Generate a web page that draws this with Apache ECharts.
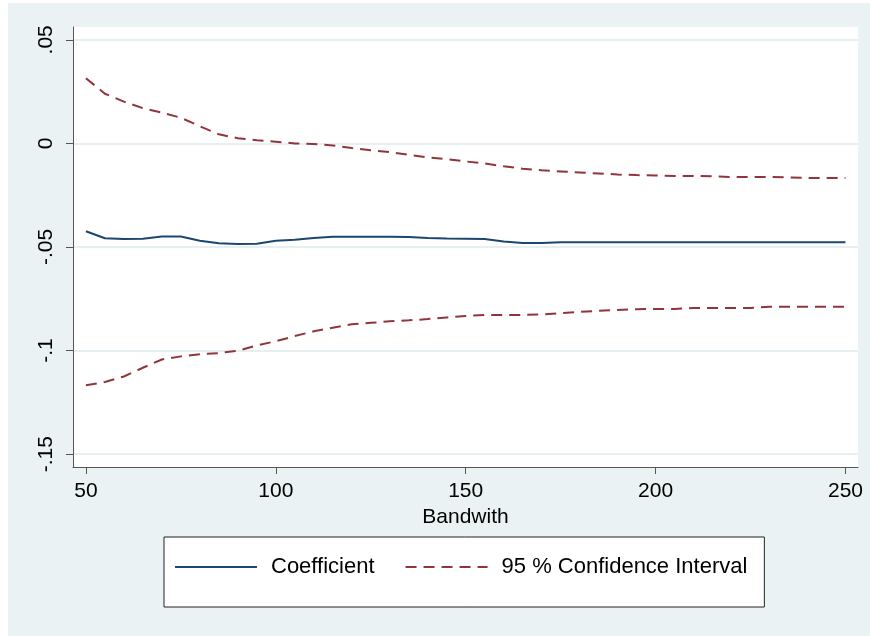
<!DOCTYPE html>
<html>
<head>
<meta charset="utf-8">
<script src="https://cdn.jsdelivr.net/npm/echarts@6/dist/echarts.min.js"></script>
<style>
  html, body { margin: 0; padding: 0; background: #ffffff; }
  #c { position: absolute; left: 8px; top: 3px; width: 862px; height: 633px; }
</style>
</head>
<body>
<div id="c"></div>
<script>
// Bandwidths (x values)
const bandwidth = [50,55,60,65,70,75,80,85,90,95,100,105,110,115,120,125,130,135,140,145,150,
  155,160,165,170,175,180,185,190,195,200,205,210,215,220,225,230,235,240,245,250];

// Point estimate
const coefficient = [-0.0424,-0.0458,-0.0461,-0.0460,-0.0449,-0.0449,-0.0470,-0.0482,-0.0485,-0.0484,
  -0.0470,-0.0465,-0.0456,-0.0450,-0.0450,-0.0450,-0.0450,-0.0452,-0.0457,-0.0459,-0.0460,
  -0.0461,-0.0474,-0.0481,-0.0481,-0.0477,-0.0477,-0.0477,-0.0477,-0.0477,-0.0477,
  -0.0477,-0.0477,-0.0477,-0.0477,-0.0477,-0.0477,-0.0477,-0.0477,-0.0477,-0.0477];

// Upper bound of the 95% confidence interval
const ciUpper = [0.0315,0.0240,0.0202,0.0170,0.0149,0.0124,0.0083,0.0044,0.0025,0.0015,
  0.0008,0.0000,-0.0003,-0.0010,-0.0022,-0.0033,-0.0042,-0.0055,-0.0067,-0.0076,-0.0087,
  -0.0097,-0.0110,-0.0122,-0.0130,-0.0135,-0.0140,-0.0145,-0.0150,-0.0153,-0.0155,
  -0.0157,-0.0157,-0.0159,-0.0162,-0.0162,-0.0162,-0.0164,-0.0167,-0.0167,-0.0167];

// Lower bound of the 95% confidence interval
const ciLower = [-0.1167,-0.1152,-0.1125,-0.1083,-0.1043,-0.1028,-0.1018,-0.1012,-0.1001,-0.0975,
  -0.0955,-0.0930,-0.0907,-0.0890,-0.0873,-0.0866,-0.0859,-0.0854,-0.0848,-0.0840,-0.0833,
  -0.0828,-0.0828,-0.0828,-0.0826,-0.0820,-0.0813,-0.0808,-0.0804,-0.0800,-0.0799,
  -0.0799,-0.0794,-0.0794,-0.0794,-0.0794,-0.0789,-0.0789,-0.0789,-0.0789,-0.0789];

// Tick values and labels
const xTickValues = [50, 100, 150, 200, 250];
const yTickValues = [-0.15, -0.1, -0.05, 0, 0.05];
const yTickLabels = ['-.15', '-.1', '-.05', '0', '.05'];

const seriesNames = ['Coefficient', '95 % Confidence Interval'];
const xTitle = 'Bandwith';

const zip = (xs, ys) => xs.map((x, i) => [x, ys[i]]);

const FONT = 'Liberation Sans, Arial, sans-serif';
const NAVY = '#1a476f';
const MAROON = '#90353b';
const AXIS = '#555555';
const GRIDLINE = '#e6eff1';

const chart = echarts.init(document.getElementById('c'), null, { renderer: 'canvas' });
chart.setOption({
  backgroundColor: '#eaf2f3',
  animation: false,
  grid: {
    left: 65, right: 12, top: 24, bottom: 169,
    show: true, backgroundColor: '#ffffff', borderWidth: 0
  },
  xAxis: {
    type: 'value',
    min: 46.6, max: 253.3,
    name: xTitle,
    nameLocation: 'middle',
    nameGap: 31,
    nameTextStyle: { fontFamily: FONT, fontSize: 21, color: '#000' },
    axisLine: { show: true, onZero: false, lineStyle: { color: AXIS, width: 1 } },
    axisTick: { show: true, length: 7, customValues: xTickValues, lineStyle: { color: AXIS } },
    axisLabel: { customValues: xTickValues, margin: 14, fontFamily: FONT, fontSize: 21, color: '#000' },
    splitLine: { show: false }
  },
  yAxis: {
    type: 'value',
    min: -0.1562, max: 0.0562,
    axisLine: { show: true, onZero: false, lineStyle: { color: AXIS, width: 1 } },
    axisTick: { show: true, length: 7, customValues: yTickValues, lineStyle: { color: AXIS } },
    axisLabel: {
      customValues: yTickValues,
      rotate: 90,
      margin: 16,
      fontFamily: FONT, fontSize: 21, color: '#000',
      formatter: function (v) {
        let best = 0;
        yTickValues.forEach((t, i) => { if (Math.abs(t - v) < Math.abs(yTickValues[best] - v)) best = i; });
        return yTickLabels[best];
      }
    },
    splitLine: { show: true, lineStyle: { color: GRIDLINE, width: 2 } }
  },
  legend: {
    left: 156, top: 534,
    orient: 'horizontal',
    data: seriesNames,
    backgroundColor: '#ffffff',
    borderColor: '#222222', borderWidth: 1,
    padding: [19, 17, 29, 10],
    itemWidth: 82, itemHeight: 14, itemGap: 30,
    itemStyle: { opacity: 0 },
    textStyle: { fontFamily: FONT, fontSize: 22, color: '#000', padding: [0, 0, 0, 9] }
  },
  series: [
    {
      name: seriesNames[0], type: 'line', data: zip(bandwidth, coefficient),
      showSymbol: false, symbol: 'none', smooth: false,
      lineStyle: { color: NAVY, width: 2 }, itemStyle: { color: NAVY }, z: 3
    },
    {
      name: seriesNames[1], type: 'line', data: zip(bandwidth, ciUpper),
      showSymbol: false, symbol: 'none', smooth: false,
      lineStyle: { color: MAROON, width: 2, type: [11, 7] }, itemStyle: { color: MAROON }, z: 3
    },
    {
      name: seriesNames[1], type: 'line', data: zip(bandwidth, ciLower),
      showSymbol: false, symbol: 'none', smooth: false,
      lineStyle: { color: MAROON, width: 2, type: [11, 7] }, itemStyle: { color: MAROON }, z: 3
    }
  ]
});
</script>
</body>
</html>
